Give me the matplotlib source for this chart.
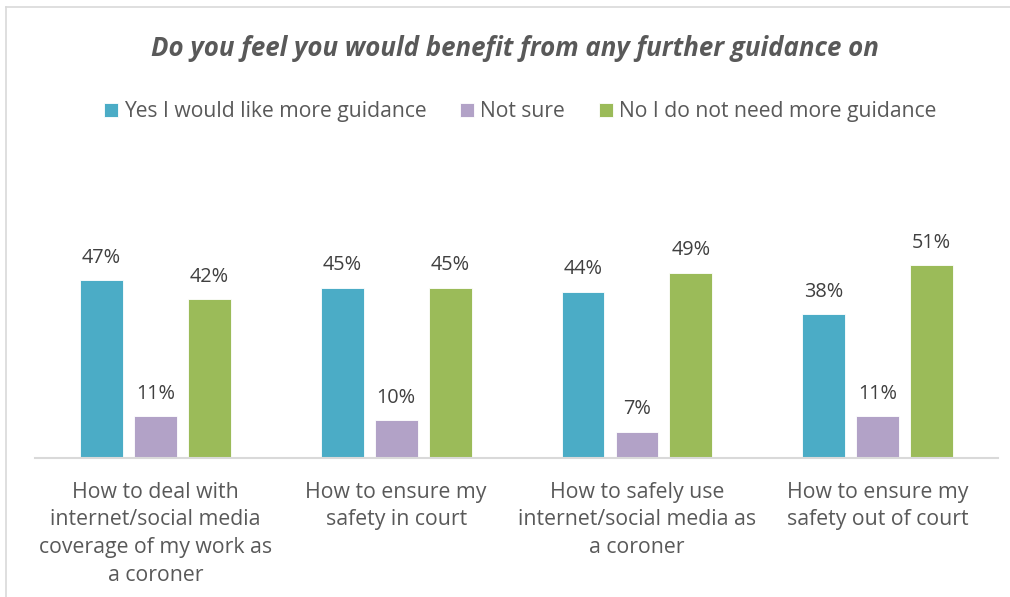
import numpy as np
from matplotlib import pyplot as plt
from matplotlib.lines import Line2D

categories = ["How to deal with\ninternet/social media\ncoverage of my work as\na coroner",
              "How to ensure my\nsafety in court",
              "How to safely use\ninternet/social media as\na coroner",
              "How to ensure my\nsafety out of court"]
series = ["Yes I would like more guidance", "Not sure", "No I do not need more guidance"]
yes_vals = [47, 45, 44, 38]
notsure_vals = [11, 10, 7, 11]
no_vals = [42, 45, 49, 51]
colors = ["#4BACC6", "#B2A2C7", "#9BBB59"]

plt.rcParams['font.family'] = ['Open Sans', 'DejaVu Sans']

fig = plt.figure(figsize=(10.1, 5.97), dpi=100)
ax = fig.add_axes([0.0347, 0.2328, 0.9535, 0.38])

x = np.arange(len(categories))
w = 0.178
off = 0.224
for i, vals in enumerate([yes_vals, notsure_vals, no_vals]):
    bars = ax.bar(x + (i - 1) * off, vals, w, color=colors[i], label=series[i],
                  edgecolor='white', linewidth=0.6)
    for b, v in zip(bars, vals):
        ax.annotate(f"{v}%", (b.get_x() + b.get_width() / 2, v), xytext=(0, 9),
                    textcoords='offset points', ha='center', va='bottom',
                    fontsize=14.3, color='#404040')

ax.set_xlim(-0.5, 3.5)
ax.set_ylim(0, 60)
ax.set_yticks([])
ax.set_xticks(x)
ax.set_xticklabels(categories, fontsize=15.3, color='#595959', linespacing=1.42)
ax.tick_params(axis='x', length=0, pad=17)
for s in ['top', 'right', 'left']:
    ax.spines[s].set_visible(False)
ax.spines['bottom'].set_color('#D9D9D9')
ax.spines['bottom'].set_linewidth(1.5)

fig.text(0.51, 0.918, "Do you feel you would benefit from any further guidance on",
         ha='center', va='center', fontsize=18.6, fontweight='bold', style='italic',
         color='#595959')

fig.legend(loc='center', bbox_to_anchor=(0.515, 0.813), ncol=3, frameon=False,
           fontsize=15.2, labelcolor='#595959', handlelength=0.65, handleheight=0.65,
           handletextpad=0.3, columnspacing=1.6)

# outer chart frame (left and top edges)
fig.add_artist(Line2D([0.006, 0.006], [0, 0.988], color='#D9D9D9', lw=1.2))
fig.add_artist(Line2D([0.006, 1.0], [0.988, 0.988], color='#D9D9D9', lw=1.2))

fig.savefig("out.png", dpi=100)
